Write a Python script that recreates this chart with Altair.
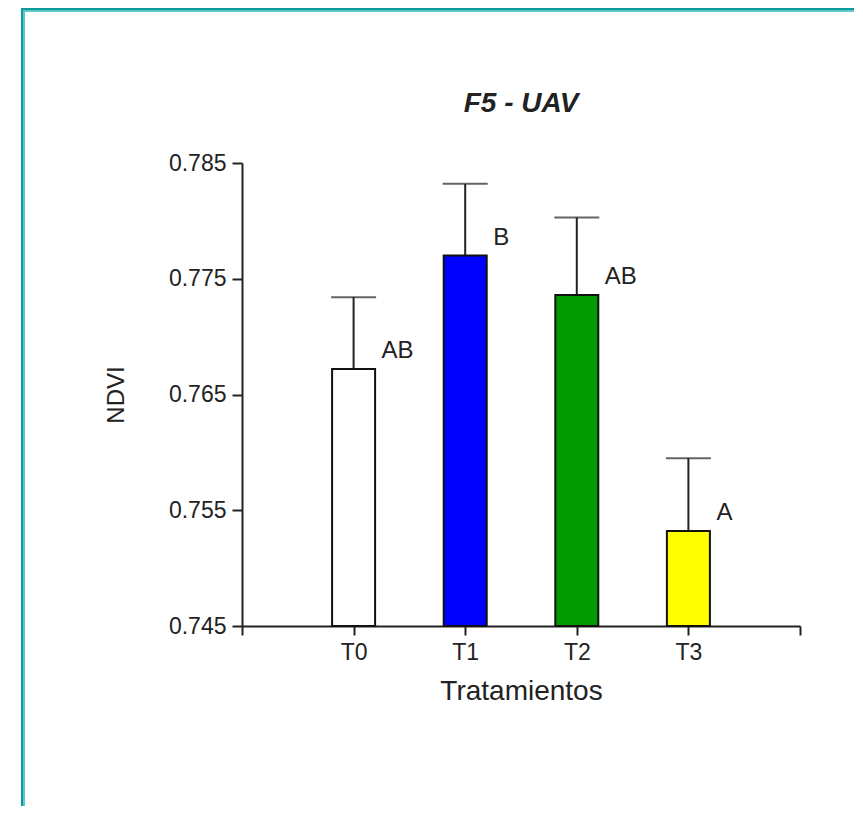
import altair as alt
import pandas as pd

title_text = ["F5 - UAV"]
categories = ["T0", "T1", "T2", "T3"]
positions = [1, 2, 3, 4]
means = [0.7672, 0.7770, 0.7736, 0.7532]
se = [0.0062, 0.0062, 0.0067, 0.0063]
letters = ["AB", "B", "AB", "A"]
colors = ["#ffffff", "#0000ff", "#009900", "#ffff00"]
y_ticks = [0.745, 0.755, 0.765, 0.775, 0.785]
x_ticks = [0, 1, 2, 3, 4, 5]
x_tick_labels = [""] + categories + [""]

df = pd.DataFrame({
    "cat": categories,
    "pos": positions,
    "mean": means,
    "se": se,
    "letter": letters,
})
df["upper"] = df["mean"] + df["se"]
one = pd.DataFrame({"t": title_text})

FONT = "Liberation Sans"
INK = "#222222"

label_expr = "[" + ",".join("'%s'" % s for s in x_tick_labels) + "][datum.value]"

x_enc = alt.X(
    "pos:Q",
    scale=alt.Scale(domain=[0, 5], nice=False, zero=False, padding=0),
    axis=alt.Axis(values=x_ticks, labelExpr=label_expr, title="Tratamientos",
                  grid=False, tickSize=9, labelPadding=6, titlePadding=13,
                  titleFontSize=28),
)
y_scale = alt.Scale(domain=[y_ticks[0], y_ticks[-1]], nice=False, zero=False, padding=0)
y_axis = alt.Axis(values=y_ticks, format=".3f", title="NDVI", grid=False,
                  tickSize=10, labelPadding=6, titlePadding=40, titleFontSize=24)

base = alt.Chart(df)

err = base.mark_rule(color=INK, strokeWidth=2).encode(
    x=x_enc,
    y=alt.Y("mean:Q", scale=y_scale, axis=y_axis),
    y2="upper:Q",
)
cap = base.mark_tick(orient="horizontal", size=45, thickness=2, color=INK).encode(
    x="pos:Q",
    y="upper:Q",
)
bars = base.mark_bar(size=43, stroke="#111111", strokeWidth=2).encode(
    x="pos:Q",
    y="mean:Q",
    y2=alt.datum(y_ticks[0]),
    color=alt.Color("cat:N", scale=alt.Scale(domain=categories, range=colors), legend=None),
)
text = base.mark_text(align="left", baseline="middle", dx=28, dy=-18,
                      fontSize=24, font=FONT, color=INK).encode(
    x="pos:Q",
    y="mean:Q",
    text="letter:N",
)

ob = alt.Chart(one)
title_mark = ob.mark_text(font=FONT, fontSize=28, fontStyle="italic", fontWeight="bold",
                          color=INK, align="center", baseline="alphabetic").encode(
    x=alt.value(279), y=alt.value(-51), text="t:N")

border_left_dark = ob.mark_rule(color="#0f9a9a", strokeWidth=2).encode(
    x=alt.value(-220), y=alt.value(-155), y2=alt.value(660))
border_left_light = ob.mark_rule(color="#5cc8c8", strokeWidth=2).encode(
    x=alt.value(-218), y=alt.value(-153), y2=alt.value(660))
border_top_dark = ob.mark_rule(color="#0f9a9a", strokeWidth=2).encode(
    x=alt.value(-221), x2=alt.value(660), y=alt.value(-154))
border_top_light = ob.mark_rule(color="#5cc8c8", strokeWidth=2).encode(
    x=alt.value(-219), x2=alt.value(660), y=alt.value(-152))

chart = alt.layer(
    err, cap, bars, text, title_mark,
    border_left_dark, border_left_light, border_top_dark, border_top_light,
).properties(
    width=558,
    height=463,
    autosize=alt.AutoSizeParams(type="none"),
    padding={"left": 234, "top": 155, "right": 54, "bottom": 180},
).configure_axis(
    domainColor=INK, domainWidth=2, tickColor=INK, tickWidth=2,
    labelFont=FONT, labelFontSize=23, labelColor=INK,
    titleFont=FONT, titleFontWeight="normal", titleColor=INK,
).configure_view(stroke=None)

chart.save("out.html", embed_options={"renderer": "svg", "actions": False})
